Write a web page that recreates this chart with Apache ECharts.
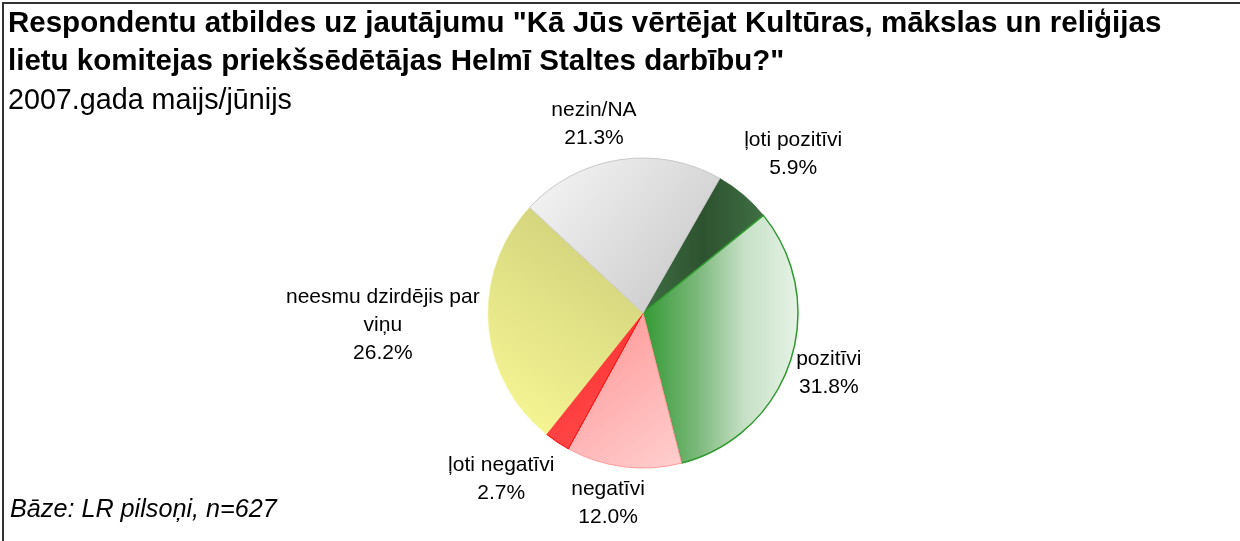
<!DOCTYPE html>
<html>
<head>
<meta charset="utf-8">
<script src="https://cdn.jsdelivr.net/npm/echarts@6/dist/echarts.min.js"></script>
<style>
  html, body { margin: 0; padding: 0; background: #fff; }
  #chart { width: 1240px; height: 541px; }
</style>
</head>
<body>
<div id="chart"></div>
<script>
// dati no attēla
const categories = ['ļoti pozitīvi', 'pozitīvi', 'negatīvi', 'ļoti negatīvi', 'neesmu dzirdējis par\nviņu', 'nezin/NA'];
const values = [5.9, 31.8, 12.0, 2.7, 26.2, 21.3];
const titleLines = ['Respondentu atbildes uz jautājumu "Kā Jūs vērtējat Kultūras, mākslas un reliģijas', 'lietu komitejas priekšsēdētājas Helmī Staltes darbību?"'];
const subtitleText = '2007.gada maijs/jūnijs';
const baseText = 'Bāze: LR pilsoņi, n=627';

// sektoru krāsas
const sliceStyles = [
  {color: {type: 'linear', x: 0, y: 0, x2: 1, y2: 0, colorStops: [{offset: 0, color: '#3f6f43'}, {offset: 0.5, color: '#2d522f'}, {offset: 1, color: '#3f6f43'}]}, borderColor: '#2f5a33', borderWidth: 0.5},
  {color: {type: 'linear', x: 0, y: 0, x2: 1, y2: 0, colorStops: [{offset: 0, color: '#339933'}, {offset: 0.35, color: '#7ab87a'}, {offset: 0.65, color: '#c6e0c6'}, {offset: 1, color: '#e6f3e6'}]}, borderColor: '#2e9a2e', borderWidth: 1.5},
  {color: {type: 'linear', x: 0, y: 0, x2: 1, y2: 1, colorStops: [{offset: 0, color: '#ff9393'}, {offset: 1, color: '#ffcfcf'}]}, borderColor: '#ff9999', borderWidth: 1},
  {color: {type: 'linear', x: 0, y: 0, x2: 1, y2: 1, colorStops: [{offset: 0, color: '#ff2a2a'}, {offset: 1, color: '#ff5050'}]}, borderColor: '#ff0000', borderWidth: 1},
  {color: {type: 'linear', x: 0, y: 1, x2: 1, y2: 0, colorStops: [{offset: 0, color: '#fafa96'}, {offset: 1, color: '#caca78'}]}, borderColor: '#f4f49a', borderWidth: 0.5},
  {color: {type: 'linear', x: 0, y: 0, x2: 1, y2: 1, colorStops: [{offset: 0, color: '#f7f7f7'}, {offset: 1, color: '#c4c4c4'}]}, borderColor: '#c8c8c8', borderWidth: 1}
];
// etiķešu nobīdes (Excel novieto tās nedaudz savādāk)
const labelOffsets = [[13, -13], [0, 0], [-10, 1], [-22, 7], [-1, -3], [-18, 0]];

const cx = 643, cy = 313, R = 155;
const startOffset = 29.7; // grādi pulksteņrādītāja virzienā no plkst. 12
const labelGap = 8;
const total = values.reduce((a, b) => a + b, 0);

const chart = echarts.init(document.getElementById('chart'));
chart.setOption({
  backgroundColor: '#fff',
  animation: false,
  title: [
    {
      text: titleLines.join('\n'),
      left: 3,
      top: 0,
      textStyle: {fontFamily: 'Liberation Sans', fontSize: 29.5, fontWeight: 'bold', color: '#000', lineHeight: 38}
    },
    {
      text: subtitleText,
      left: 3,
      top: 80,
      textStyle: {fontFamily: 'Liberation Sans', fontSize: 28.7, fontWeight: 'normal', color: '#000', lineHeight: 32}
    },
    {
      text: baseText,
      left: 5,
      top: 490,
      textStyle: {fontFamily: 'Liberation Sans', fontSize: 25.2, fontWeight: 'normal', fontStyle: 'italic', color: '#000', lineHeight: 30}
    }
  ],
  graphic: [
    {
      type: 'rect',
      shape: {x: 3, y: 3, width: 1300, height: 600},
      style: {fill: 'none', stroke: '#333', lineWidth: 2},
      silent: true
    }
  ],
  series: [
    {
      type: 'pie',
      center: [cx, cy],
      radius: R,
      startAngle: 90 - startOffset,
      clockwise: true,
      avoidLabelOverlap: false,
      label: {
        show: true,
        position: 'outside',
        fontFamily: 'Liberation Sans',
        fontSize: 21,
        lineHeight: 28,
        color: '#000',
        formatter: p => p.name + '\n' + values[p.dataIndex].toFixed(1) + '%'
      },
      labelLine: {show: false},
      labelLayout: params => {
        const i = params.dataIndex;
        let before = 0;
        for (let j = 0; j < i; j++) before += values[j];
        const mid = (startOffset + (before + values[i] / 2) / total * 360) * Math.PI / 180;
        const ux = Math.sin(mid), uy = -Math.cos(mid);
        const w = params.labelRect.width, h = params.labelRect.height;
        return {
          x: cx + ux * (R + labelGap) + ux * w / 2 + labelOffsets[i][0],
          y: cy + uy * (R + labelGap) + uy * h / 2 + labelOffsets[i][1],
          align: 'center',
          verticalAlign: 'middle'
        };
      },
      data: categories.map((name, i) => ({name, value: values[i], itemStyle: sliceStyles[i]}))
    }
  ]
});
</script>
</body>
</html>
